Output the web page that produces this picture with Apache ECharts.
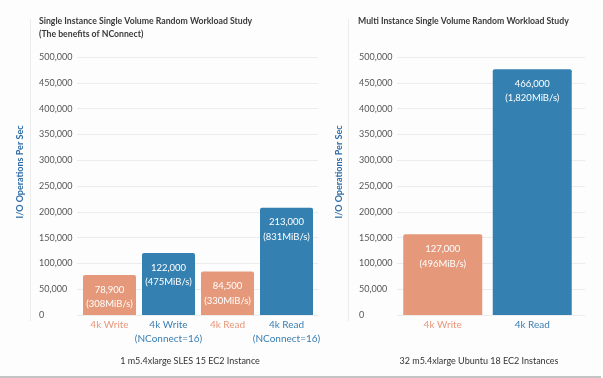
<!DOCTYPE html>
<html><head><meta charset="utf-8">
<script src="https://cdn.jsdelivr.net/npm/echarts@6/dist/echarts.min.js"></script>
<style>html,body{margin:0;padding:0;background:#fdfdfd}#c{width:603px;height:378px}</style>
</head><body><div id="c"></div>
<script>
// ---- data ----
const categoriesA = ['4k Write', '4k Write\n(NConnect=16)', '4k Read', '4k Read\n(NConnect=16)'];
const valuesA = [77500, 120000, 84500, 208000];
const labelIopsA = ['78,900', '122,000', '84,500', '213,000'];
const labelMiBA = ['(308MiB/s)', '(475MiB/s)', '(330MiB/s)', '(831MiB/s)'];
const kindA = ['std', 'nc', 'std', 'nc'];

const categoriesB = ['4k Write', '4k Read'];
const valuesB = [156500, 476500];
const labelIopsB = ['127,000', '466,000'];
const labelMiBB = ['(496MiB/s)', '(1,820MiB/s)'];
const kindB = ['std', 'nc'];

const yMin = 0, yMax = 500000, yStep = 50000;
const titleA1 = 'Single Instance Single Volume Random Workload Study';
const titleA2 = '(The benefits of NConnect)';
const titleB = 'Multi Instance Single Volume Random Workload Study';
const subA = '1 m5.4xlarge SLES 15 EC2 Instance';
const subB = '32 m5.4xlarge Ubuntu 18 EC2 Instances';
const yName = 'I/O Operations Per Sec';

// ---- styles ----
const FONT = 'Lato, "Open Sans", sans-serif';
const barColor = {std: '#E5997A', nc: '#3380B1'};
const textColor = {std: '#E8967A', nc: '#3A7EB2'};

function labelYAxis(gi) {
  return {
    type: 'value', gridIndex: gi, min: yMin, max: yMax, interval: yStep,
    axisLine: {show: false}, axisTick: {show: false},
    axisLabel: {align: 'left', margin: 38, color: '#555', fontFamily: FONT, fontSize: 9,
      formatter: v => v.toLocaleString('en-US')},
    splitLine: {lineStyle: {color: '#ececec', width: 1}}
  };
}
function barYAxis(gi) {
  return {type: 'value', gridIndex: gi, min: yMin, max: yMax, interval: yStep, show: false, splitLine: {show: false}};
}
function catAxis(gi, cats, kinds) {
  return {
    type: 'category', gridIndex: gi, data: cats,
    axisLine: {show: false}, axisTick: {show: false},
    axisLabel: {margin: 3, interval: 0,
      formatter: (v, i) => v.split('\n').map(s => '{' + kinds[i] + '|' + s + '}').join('\n'),
      rich: {
        std: {color: textColor.std, fontFamily: FONT, fontSize: 10, lineHeight: 14},
        nc: {color: textColor.nc, fontFamily: FONT, fontSize: 10, lineHeight: 14}
      }}
  };
}
function barSeries(xi, vals, kinds, iops, mib, w) {
  return {
    type: 'bar', xAxisIndex: xi, yAxisIndex: xi, barWidth: w,
    data: vals.map((v, i) => ({value: v, itemStyle: {color: barColor[kinds[i]]}})),
    itemStyle: {borderRadius: [2, 2, 0, 0]},
    label: {show: true, position: 'insideTop', distance: 7.5, color: '#fff', fontFamily: FONT,
      fontSize: 9.5, lineHeight: 14.5, formatter: p => iops[p.dataIndex] + '\n' + mib[p.dataIndex]},
    animation: false
  };
}
function txt(x, y, s, opts) {
  return {type: 'text', left: x, top: y, style: Object.assign({text: s, fill: '#3a3a3a',
    font: 'bold 8.7px ' + FONT}, opts || {})};
}

const chart = echarts.init(document.getElementById('c'), null, {renderer: 'canvas'});
chart.setOption({
  backgroundColor: '#fdfdfd',
  animation: false,
  grid: [
    {left: 77, right: 603 - 318, top: 57, bottom: 63},
    {left: 80, right: 603 - 316, top: 57, bottom: 63},
    {left: 397, right: 603 - 585, top: 57, bottom: 63},
    {left: 398, right: 603 - 577, top: 57, bottom: 63}
  ],
  xAxis: [
    {type: 'category', gridIndex: 0, data: categoriesA, show: false},
    catAxis(1, categoriesA, kindA),
    {type: 'category', gridIndex: 2, data: categoriesB, show: false},
    catAxis(3, categoriesB, kindB)
  ],
  yAxis: [labelYAxis(0), barYAxis(1), labelYAxis(2), barYAxis(3)],
  series: [
    {type: 'bar', xAxisIndex: 0, yAxisIndex: 0, data: []},
    barSeries(1, valuesA, kindA, labelIopsA, labelMiBA, 53),
    {type: 'bar', xAxisIndex: 2, yAxisIndex: 2, data: []},
    barSeries(3, valuesB, kindB, labelIopsB, labelMiBB, 79)
  ],
  graphic: [
    {type: 'line', shape: {x1: 30.5, y1: 19, x2: 30.5, y2: 321}, style: {stroke: '#ececec', lineWidth: 1}},
    {type: 'line', shape: {x1: 348.5, y1: 19, x2: 348.5, y2: 321}, style: {stroke: '#ececec', lineWidth: 1}},
    {type: 'line', shape: {x1: 0, y1: 377, x2: 601, y2: 377}, style: {stroke: '#c4c4c4', lineWidth: 2}},
    txt(39, 17, titleA1),
    txt(39, 30, titleA2),
    txt(358, 17, titleB),
    {type: 'text', x: 190, y: 361, style: {text: subA, fill: '#333', font: '9px ' + FONT, textAlign: 'center', textVerticalAlign: 'middle'}},
    {type: 'text', x: 479, y: 361, style: {text: subB, fill: '#333', font: '9px ' + FONT, textAlign: 'center', textVerticalAlign: 'middle'}},
    {type: 'text', x: 20, y: 172, rotation: Math.PI / 2, style: {text: yName, fill: '#2F6DA8', font: 'bold 9px ' + FONT, textAlign: 'center', textVerticalAlign: 'middle'}},
    {type: 'text', x: 339, y: 172, rotation: Math.PI / 2, style: {text: yName, fill: '#2F6DA8', font: 'bold 9px ' + FONT, textAlign: 'center', textVerticalAlign: 'middle'}}
  ]
});
</script></body></html>
